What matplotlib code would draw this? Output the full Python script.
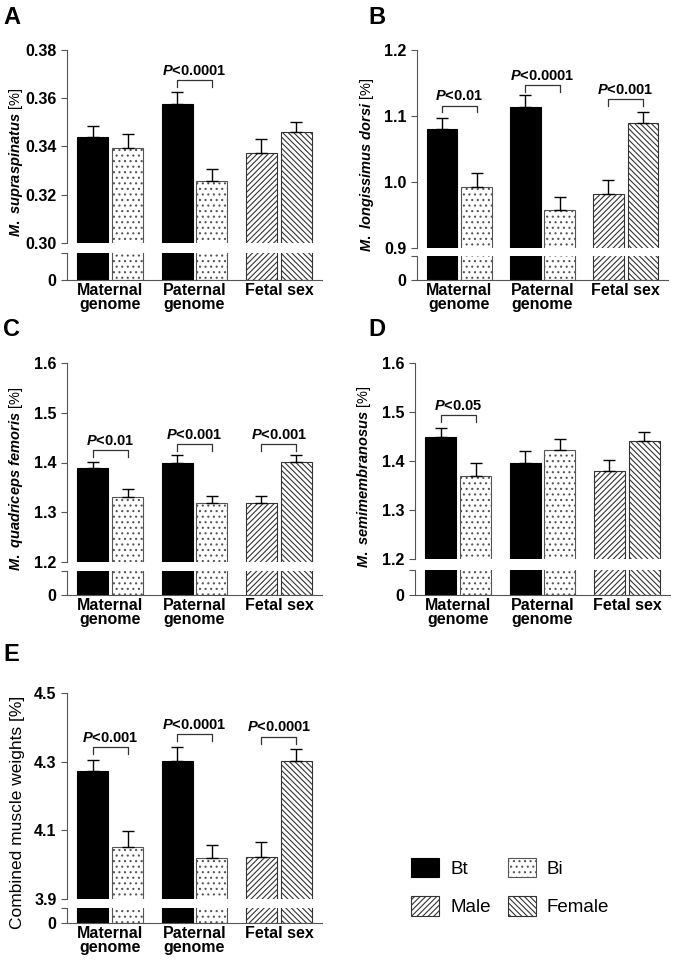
import numpy as np
import matplotlib
matplotlib.use("Agg")
import matplotlib.pyplot as plt
from matplotlib.patches import Patch

plt.rcParams["font.family"] = "Liberation Sans"
plt.rcParams["mathtext.fontset"] = "custom"
plt.rcParams["mathtext.it"] = "Liberation Sans:italic:bold"
plt.rcParams["mathtext.rm"] = "Liberation Sans:bold"
plt.rcParams["hatch.linewidth"] = 0.8

# Place for data
groups = ["Maternal\ngenome", "Paternal\ngenome", "Fetal sex"]
series = ["Bt", "Bi", "Male", "Female"]

a_vals = [0.3439, 0.3393, 0.3575, 0.3258, 0.3372, 0.3461]
a_errs = [0.0044, 0.0058, 0.0050, 0.0050, 0.0058, 0.0042]
b_vals = [1.080, 0.992, 1.114, 0.958, 0.982, 1.090]
b_errs = [0.017, 0.021, 0.018, 0.019, 0.021, 0.016]
c_vals = [1.388, 1.330, 1.400, 1.319, 1.318, 1.402]
c_errs = [0.014, 0.017, 0.015, 0.014, 0.015, 0.013]
d_vals = [1.448, 1.370, 1.396, 1.422, 1.379, 1.440]
d_errs = [0.019, 0.026, 0.024, 0.022, 0.024, 0.020]
e_vals = [4.273, 4.051, 4.303, 4.020, 4.022, 4.302]
e_errs = [0.032, 0.047, 0.040, 0.037, 0.043, 0.034]

W, H = 675, 960
fig = plt.figure(figsize=(W / 100, H / 100), dpi=100)

fills = [
    dict(facecolor="black", edgecolor="black", hatch=None),
    dict(facecolor="white", edgecolor="#555555", hatch="..."),
    dict(facecolor="white", edgecolor="#333333", hatch="//////"),
    dict(facecolor="white", edgecolor="#333333", hatch="\\\\\\\\\\\\"),
]
spine_col = "#555555"


def rect(x0, y0, x1, y1):
    return [x0 / W, 1 - y1 / H, (x1 - x0) / W, (y1 - y0) / H]


def panel(px, up_y, low_y, vals, errs, ylim, ticks, ticklabels, ylabel, brackets, letter, letter_xy,
          label_size=10.5):
    ax = fig.add_axes(rect(px[0], up_y[0], px[1], up_y[1]))
    axl = fig.add_axes(rect(px[0], low_y[0], px[1], low_y[1]))
    xs = []
    for g in range(3):
        xs += [g - 0.207, g + 0.207]
    for i, (x, v, e) in enumerate(zip(xs, vals, errs)):
        style = fills[0 if i in (0, 2) else 1] if i < 4 else fills[i - 2]
        for a in (ax, axl):
            a.bar(x, v, width=0.367, linewidth=0.8, zorder=2, **style)
        ax.errorbar(x, v, yerr=[[0], [e]], color="black", capsize=4, elinewidth=1, capthick=1, zorder=3)
    ax.set_ylim(*ylim)
    axl.set_ylim(0, ylim[0] * 0.5)
    for a in (ax, axl):
        a.set_xlim(-0.51, 2.51)
        a.spines["top"].set_visible(False)
        a.spines["right"].set_visible(False)
        a.spines["left"].set_color(spine_col)
        a.spines["bottom"].set_color(spine_col)
        a.tick_params(axis="y", colors=spine_col, labelcolor="black", labelsize=11.5, length=4)
        a.tick_params(axis="x", length=0)
        a.patch.set_alpha(0)
    ax.spines["bottom"].set_visible(False)
    ax.set_xticks([])
    ax.set_yticks(ticks)
    ax.set_yticklabels(ticklabels, fontweight="bold")
    axl.set_yticks([0, ylim[0] * 0.5])
    axl.set_yticklabels(["0", ""], fontweight="bold")
    axl.set_xticks(range(3))
    axl.set_xticklabels(groups, fontweight="bold", fontsize=11.5, linespacing=0.9)
    axl.tick_params(axis="x", pad=2)
    ax.set_ylabel(ylabel, fontsize=label_size)
    ax.yaxis.set_label_coords(-0.165, 0.42)
    for g, top, leg, txt in brackets:
        x0, x1 = g - 0.207, g + 0.207
        ax.plot([x0, x0, x1, x1], [leg, top, top, leg], color="#333333", lw=0.9, clip_on=False)
        ax.text(g, top + (ylim[1] - ylim[0]) * 0.012, r"$P$<" + txt, ha="center", va="bottom",
                fontsize=10.5, fontweight="bold", clip_on=False)
    fig.text(letter_xy[0] / W, 1 - letter_xy[1] / H, letter, fontsize=17, fontweight="bold",
             ha="left", va="top")


panel((67, 322), (50, 243), (253, 280), a_vals, a_errs, (0.30, 0.38),
      [0.30, 0.32, 0.34, 0.36, 0.38], ["0.30", "0.32", "0.34", "0.36", "0.38"],
      r"$M.\ supraspinatus$ [%]",
      [(1, 0.3676, 0.3646, "0.0001")], "A", (3, 6))

panel((417, 668), (50, 248), (256, 280), b_vals, b_errs, (0.9, 1.2),
      [0.9, 1.0, 1.1, 1.2], ["0.9", "1.0", "1.1", "1.2"],
      r"$M.\ longissimus\ dorsi$ [%]",
      [(0, 1.1158, 1.1067, "0.01"), (1, 1.147, 1.137, "0.0001"), (2, 1.1254, 1.115, "0.001")],
      "B", (368, 6))

panel((67, 322), (363, 562), (571, 595), c_vals, c_errs, (1.2, 1.6),
      [1.2, 1.3, 1.4, 1.5, 1.6], ["1.2", "1.3", "1.4", "1.5", "1.6"],
      r"$M.\ quadriceps\ femoris$ [%]",
      [(0, 1.425, 1.412, "0.01"), (1, 1.437, 1.424, "0.001"), (2, 1.437, 1.424, "0.001")],
      "C", (3, 318))

panel((415, 670), (363, 559), (570, 595), d_vals, d_errs, (1.2, 1.6),
      [1.2, 1.3, 1.4, 1.5, 1.6], ["1.2", "1.3", "1.4", "1.5", "1.6"],
      r"$M.\ semimembranosus$ [%]",
      [(0, 1.493, 1.480, "0.05")], "D", (368, 318))

panel((67, 322), (693, 899), (908, 923), e_vals, e_errs, (3.9, 4.5),
      [3.9, 4.1, 4.3, 4.5], ["3.9", "4.1", "4.3", "4.5"],
      "Combined muscle weights [%]",
      [(0, 4.3413, 4.322, "0.001"), (1, 4.380, 4.360, "0.0001"), (2, 4.372, 4.352, "0.0001")],
      "E", (3, 643), label_size=12.5)

handles = [Patch(label=s, linewidth=0.8, **fills[i]) for i, s in enumerate(series)]
order = [0, 2, 1, 3]
fig.legend([handles[i] for i in order], [series[i] for i in order], ncol=2, frameon=False,
           loc="center", bbox_to_anchor=(510 / W, 1 - 887 / H), fontsize=13.5,
           handlelength=1.5, handleheight=1.2, columnspacing=0.9, labelspacing=1.0,
           handletextpad=0.6)

fig.savefig("out.png", dpi=100)
